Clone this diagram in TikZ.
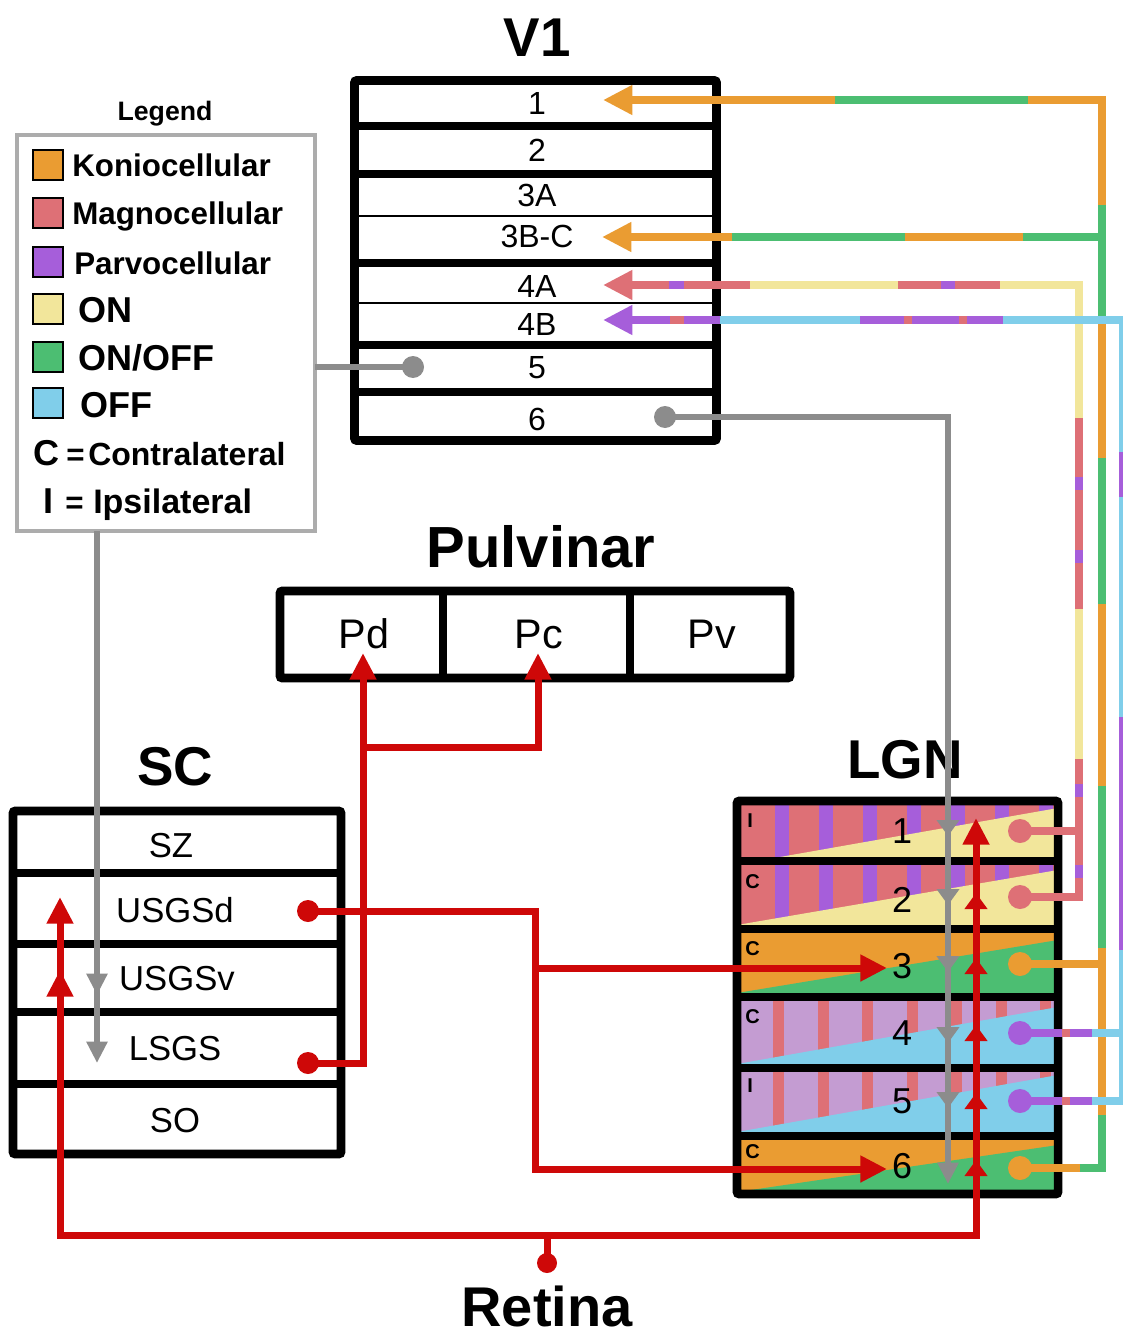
\documentclass[tikz,border=0pt]{standalone}
\usepackage{fontspec}
\setmainfont{Liberation Sans}
\usetikzlibrary{arrows.meta}
\definecolor{ko}{RGB}{234,156,50}
\definecolor{ma}{RGB}{222,112,118}
\definecolor{pa}{RGB}{166,94,218}
\definecolor{on}{RGB}{242,230,155}
\definecolor{oo}{RGB}{76,190,114}
\definecolor{of}{RGB}{128,206,234}
\definecolor{lav}{RGB}{196,156,210}
\definecolor{rd}{RGB}{206,8,8}
\definecolor{gr}{RGB}{140,140,140}
\definecolor{lg}{RGB}{172,172,172}
\newcommand{\fsz}[1]{\fontsize{#1pt}{#1pt}\selectfont}
\begin{document}
\begin{tikzpicture}[x=0.75pt,y=-0.75pt,
  bx/.style={draw=black,line width=6.4pt,rounded corners=1.5pt},
  sepl/.style={draw=black,line width=6pt},
  thinl/.style={draw=black,line width=1.3pt},
  cl/.style={line width=5.6pt},
  rl/.style={draw=rd,line width=5.25pt,line join=miter},
  gl/.style={draw=gr,line width=4.8pt},
  bigtip/.style={-{Triangle[length=22pt,width=21pt]}},
  redtip/.style={-{Triangle[length=20pt,width=19pt]}},
  redmid/.style={-{Triangle[length=12pt,width=16.5pt]}},
  graytip/.style={-{Triangle[length=16pt,width=15pt]}},
  graymid/.style={-{Triangle[length=12pt,width=16.5pt]}},
  txt/.style={inner sep=0pt,anchor=base},
  ttl/.style={txt,font=\bfseries\fsz{41}},
  v1lbl/.style={txt,font=\fsz{24}},
  sclbl/.style={txt,font=\fsz{26}},
  pullbl/.style={txt,font=\fsz{31}},
  lgnnum/.style={txt,font=\fsz{27}},
  lgnlr/.style={inner sep=0pt,anchor=base west,font=\bfseries\fsz{15}},
  legs/.style={inner sep=0pt,anchor=base west,font=\bfseries\fsz{23.5}},
  legb/.style={inner sep=0pt,anchor=base west,font=\bfseries\fsz{27}},
  sq/.style={draw=black,line width=1.5pt,minimum size=22.5pt,inner sep=0pt},
]
\useasboundingbox (0,0) rectangle (1122,1337);
\fill[white] (0,0) rectangle (1122,1337);

% ---------------- LGN layers ----------------
\fill[ma] (737,801) rectangle (1058,861);
\foreach \x in {775,819,...,1039} \fill[pa] (\x,801) rectangle ++(14,60);
\fill[on] (780,857) -- (1058,808) -- (1058,861) -- (780,861) -- cycle;
\fill[ma] (737,861) rectangle (1058,929);
\foreach \x in {775,819,...,1039} \fill[pa] (\x,861) rectangle ++(14,68);
\fill[on] (737,925) -- (1058,870) -- (1058,929) -- (737,929) -- cycle;
\fill[ko] (737,929) rectangle (1058,997);
\fill[oo] (737,993) -- (1058,940) -- (1058,997) -- (737,997) -- cycle;
\fill[lav] (737,997) rectangle (1058,1068);
\foreach \x in {773,817.5,...,1045} \fill[ma] (\x,997) rectangle ++(11,71);
\fill[of] (737,1064) -- (1058,1007) -- (1058,1068) -- (737,1068) -- cycle;
\fill[lav] (737,1068) rectangle (1058,1136);
\foreach \x in {773,817.5,...,1045} \fill[ma] (\x,1068) rectangle ++(11,68);
\fill[of] (737,1132) -- (1058,1075) -- (1058,1136) -- (737,1136) -- cycle;
\fill[ko] (737,1136) rectangle (1058,1194);
\fill[oo] (737,1192) -- (1058,1145) -- (1058,1196) -- (737,1196) -- cycle;
\foreach \y in {861,929,997,1068,1136} \draw[sepl] (737,\y) -- (1058,\y);
\draw[bx] (737,801) rectangle (1058,1194);
\node[lgnlr] (lgI1) at (747,827) {I};
\node[lgnlr] (lgC2) at (745,888) {C};
\node[lgnlr] (lgC3) at (745,955) {C};
\node[lgnlr] (lgC4) at (745,1023) {C};
\node[lgnlr] (lgI5) at (747,1092) {I};
\node[lgnlr] (lgC6) at (745,1158) {C};
\node[lgnnum] (n1) at (902,843) {1};
\node[lgnnum] (n2) at (902,912) {2};
\node[lgnnum] (n3) at (902,978) {3};
\node[lgnnum] (n4) at (902,1045) {4};
\node[lgnnum] (n5) at (902,1113) {5};
\node[lgnnum] (n6) at (902,1178) {6};
\node[ttl] (tLGN) at (905,778) {LGN};

% ---------------- V1 ----------------
\node[ttl] (tV1) at (537,57) {V1};
\draw[bx] (354.5,80.5) rectangle (716.5,440.5);
\foreach \y in {126,174,263,345,392} \draw[sepl] (355,\y) -- (716,\y);
\foreach \y in {216,303} \draw[thinl] (355,\y) -- (716,\y);
\node[v1lbl] (v1a) at (537,115) {1};
\node[v1lbl] (v1b) at (537,162) {2};
\node[v1lbl] (v1c) at (537,207) {3A};
\node[v1lbl] (v1d) at (537,248) {3B-C};
\node[v1lbl] (v1e) at (537,298) {4A};
\node[v1lbl] (v1f) at (537,335) {4B};
\node[v1lbl] (v1g) at (537,378) {5};
\node[v1lbl] (v1h) at (537,430) {6};

% ---------------- Pulvinar ----------------
\node[ttl,font=\bfseries\fsz{43.5}] (tPul) at (541,567) {Pulvinar};
\draw[bx] (280,591) rectangle (790,678);
\draw[sepl] (443,591) -- (443,678);
\draw[sepl] (630,591) -- (630,678);
\node[pullbl] (pd) at (364,648) {Pd};
\node[pullbl] (pc) at (539,648) {Pc};
\node[pullbl] (pv) at (712,648) {Pv};

% ---------------- SC ----------------
\node[ttl] (tSC) at (175,785) {SC};
\draw[bx] (13,811) rectangle (341,1154);
\foreach \y in {873,944,1012,1084} \draw[sepl] (13,\y) -- (341,\y);
\node[sclbl] (sz) at (171,857) {SZ};
\node[sclbl] (usd) at (175,922) {USGSd};
\node[sclbl] (usv) at (177,990) {USGSv};
\node[sclbl] (lsgs) at (175,1060) {LSGS};
\node[sclbl] (so) at (175,1132) {SO};

% ---------------- Legend ----------------
\node[txt,font=\bfseries\fsz{20}] (tLeg) at (165,121) {Legend};
\draw[draw=lg,line width=3.3pt] (17,135) rectangle (315,531);
\node[sq,fill=ko] (sqk) at (48,165) {};
\node[sq,fill=ma] (sqm) at (48,213) {};
\node[sq,fill=pa] (sqp) at (48,262) {};
\node[sq,fill=on] (sqon) at (48,309) {};
\node[sq,fill=oo] (sqoo) at (48,357) {};
\node[sq,fill=of] (sqof) at (48,403) {};
\node[legs] (lk) at (72,177) {Koniocellular};
\node[legs] (lm) at (72,225) {Magnocellular};
\node[legs] (lp) at (74,275) {Parvocellular};
\node[legb] (lon) at (78,323) {ON};
\node[legb] (loo) at (78,370) {ON/OFF};
\node[legb] (lof) at (80,417) {OFF};
\node[legb] (lC) at (33,465) {C};
\node[legs] (lCe) at (66,465) {=};
\node[legs,font=\bfseries\fsz{24}] (lCt) at (88,465) {Contralateral};
\node[legb] (lI) at (43,513) {I};
\node[legs] (lIe) at (65,513) {=};
\node[legs,font=\bfseries\fsz{25.5}] (lIt) at (93,513) {Ipsilateral};

% ---------------- Retina ----------------
\node[ttl,font=\bfseries\fsz{42}] (tRet) at (547,1326) {Retina};

% ---------------- named points ----------------
\coordinate (l1dot) at (1020,831);
\coordinate (l2dot) at (1020,897);
\coordinate (l3dot) at (1020,964);
\coordinate (l4dot) at (1020,1033);
\coordinate (l5dot) at (1020,1101);
\coordinate (l6dot) at (1020,1168);
\coordinate (v1in1) at (603,100);
\coordinate (v1in3) at (602,237);
\coordinate (v1in4a) at (603,285);
\coordinate (v1in4b) at (603,320);
\coordinate (v1d5) at (413,367);
\coordinate (v1d6) at (665,417);
\coordinate (legR) at (315,367);
\coordinate (legB) at (97,531);
\coordinate (scin) at (97,1063);
\coordinate (usdd) at (308,911);
\coordinate (lsd) at (308,1063);
\coordinate (pdin) at (363,653);
\coordinate (pcin) at (538,653);
\coordinate (lgn3in) at (887,968);
\coordinate (lgn6in) at (887,1169);
\coordinate (ret) at (547,1263);
\coordinate (retj) at (547,1235);
\coordinate (scret) at (60,897);
\coordinate (lgnret) at (976,818);
\coordinate (lgngray) at (948,1184);

% ---------------- koniocellular / on-off route ----------------
\draw[cl,draw=ko,line join=miter,bigtip] (l6dot) -- (1102,1168) -- (1102,100) -- (v1in1);
\draw[cl,draw=oo] (835,100) -- (1028,100);
\draw[cl,draw=oo] (1102,205) -- (1102,320);
\draw[cl,draw=oo] (1102,458) -- (1102,604);
\draw[cl,draw=oo] (1102,786) -- (1102,948);
\draw[cl,draw=oo,line join=miter] (1102,1115) -- (1102,1168) -- (1080,1168);
\draw[cl,draw=ko,bigtip] (1102,237) -- (v1in3);
\draw[cl,draw=oo] (732,237) -- (905,237);
\draw[cl,draw=oo] (1023,237) -- (1102,237);
\draw[cl,draw=ko] (l3dot) -- (1102,964);

% ---------------- magno / ON route ----------------
\draw[cl,draw=on,line join=miter] (l2dot) -- (1079,897) -- (1079,285) -- (750,285);
\draw[cl,draw=ma,bigtip] (750,285) -- (v1in4a);
\draw[cl,draw=pa] (669,285) -- (684,285);
\draw[cl,draw=ma] (898,285) -- (1000,285);
\draw[cl,draw=pa] (941,285) -- (955,285);
\draw[cl,draw=ma] (1079,418) -- (1079,609);
\draw[cl,draw=pa] (1079,477) -- (1079,490);
\draw[cl,draw=pa] (1079,550) -- (1079,563);
\draw[cl,draw=ma,line join=miter] (1079,759) -- (1079,897) -- (l2dot);
\draw[cl,draw=pa] (1079,784) -- (1079,797);
\draw[cl,draw=pa] (1079,865) -- (1079,878);
\draw[cl,draw=ma] (l1dot) -- (1079,831);

% ---------------- parvo / OFF route ----------------
\draw[cl,draw=of,line join=miter] (l5dot) -- (1123,1101) -- (1123,320) -- (720,320);
\draw[cl,draw=pa,bigtip] (720,320) -- (v1in4b);
\draw[cl,draw=ma] (670,320) -- (684,320);
\draw[cl,draw=pa] (860,320) -- (1003,320);
\draw[cl,draw=ma] (904,320) -- (912,320);
\draw[cl,draw=ma] (959,320) -- (967,320);
\draw[cl,draw=pa] (1123,452) -- (1123,497);
\draw[cl,draw=pa] (1123,717) -- (1123,950);
\draw[cl,draw=of] (l4dot) -- (1123,1033);
\foreach \y in {1033,1101} {
  \draw[cl,draw=pa] (1020,\y) -- (1062,\y);
  \draw[cl,draw=ma] (1062,\y) -- (1070,\y);
  \draw[cl,draw=pa] (1070,\y) -- (1092,\y);
}
\fill[ma] (l1dot) circle (9pt);
\fill[ma] (l2dot) circle (9pt);
\fill[ko] (l3dot) circle (9pt);
\fill[pa] (l4dot) circle (9pt);
\fill[pa] (l5dot) circle (9pt);
\fill[ko] (l6dot) circle (9pt);

% ---------------- gray feedback ----------------
\draw[gl] (legR) -- (v1d5);
\fill[gr] (v1d5) circle (8.25pt);
\draw[gl,graytip] (legB) -- (scin);
\draw[gl,graytip] (97,975) -- (97,995);
\draw[gl,graytip,line join=miter] (v1d6) -| (lgngray);
\fill[gr] (v1d6) circle (8.25pt);
\foreach \t in {836,905,972,1043,1108} \draw[gl,graymid] (948,\t-18) -- (948,\t);

% ---------------- red pathways ----------------
\draw[rl,redtip] (usdd) -- (535,911) -- (535,1169) -- (lgn6in);
\draw[rl,redtip] (535,968) -- (lgn3in);
\fill[rd] (usdd) circle (8.25pt);
\draw[rl,redtip] (lsd) -- (363,1063) -- (pdin);
\draw[rl,redtip] (363,747) -- (538,747) -- (pcin);
\fill[rd] (lsd) circle (8.25pt);
\draw[rl] (ret) -- (retj);
\draw[rl,redtip] (retj) -| (scret);
\draw[rl,redtip] (retj) -| (lgnret);
\draw[rl,redtip] (60,995) -- (60,970);
\foreach \t in {893,958,1025,1093,1160} \draw[rl,redmid] (976,\t+18) -- (976,\t);
\fill[rd] (ret) circle (7.5pt);
\end{tikzpicture}
\end{document}
